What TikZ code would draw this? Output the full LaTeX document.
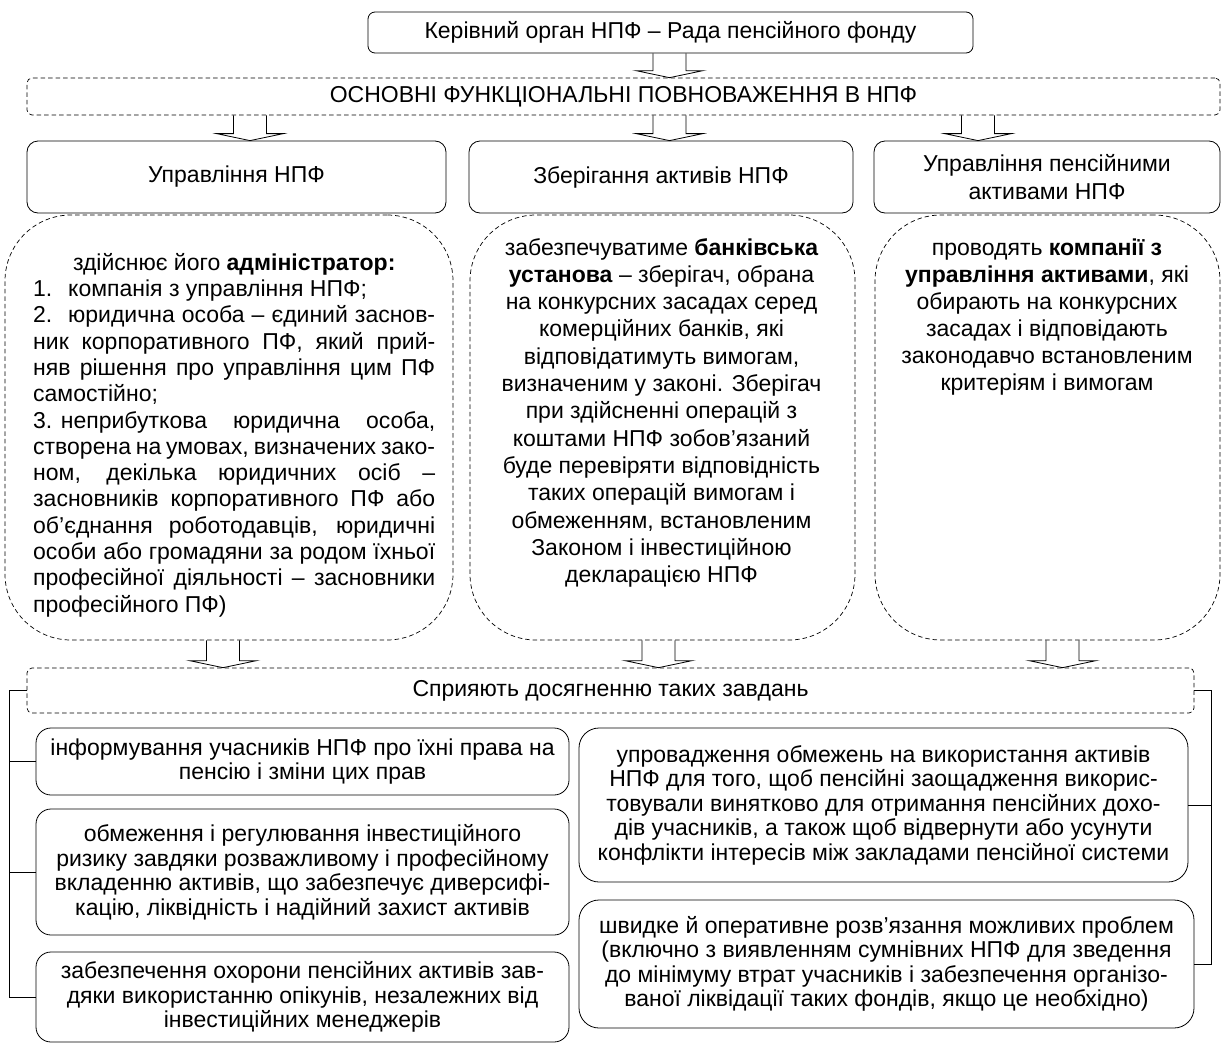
\documentclass[tikz,border=0pt]{standalone}
\usepackage{fontspec}
\setmainfont{Liberation Sans}
\usetikzlibrary{calc}
\newcommand{\fsA}{\fontsize{23}{26.5}\selectfont}
\newcommand{\fsB}{\fontsize{23}{24.5}\selectfont}
\newcommand{\fsL}{\fontsize{23}{26.3}\selectfont}
\newcommand{\fsM}{\fontsize{23}{27.3}\selectfont}
\newcommand{\blockarr}[3]{%
  \coordinate (ax) at (#1,0);
  \draw[arrline] ($(ax |- #2.south)+(-16.5,0)$) -- ($(ax |- #3.north)+(-16.5,-7)$)
    -- ($(ax |- #3.north)+(-33.5,-7)$) -- (ax |- #3.north)
    -- ($(ax |- #3.north)+(33.5,-7)$) -- ($(ax |- #3.north)+(16.5,-7)$)
    -- ($(ax |- #2.south)+(16.5,0)$);
}
\begin{document}
\begin{tikzpicture}[x=1pt,y=-1pt,
  solidbox/.style={draw, line width=0.8pt, rounded corners=#1, inner sep=0pt, align=center, font=\fsA},
  dashbox/.style={draw, line width=0.7pt, dash pattern=on 4.5pt off 3pt, rounded corners=#1, inner sep=0pt, align=center, font=\fsA},
  lowbox/.style={draw, line width=0.8pt, rounded corners=15pt, inner sep=0pt, align=center, font=\fsB},
  arrline/.style={line width=0.8pt, line join=miter},
  bracket/.style={line width=0.8pt},
  bodytext/.style={inner sep=0pt, anchor=north}
]
\useasboundingbox (0,0) rectangle (1222,1044);

% top
\node[solidbox=7pt, minimum width=605pt, minimum height=41pt] (top) at (670.5,32.5)
  {Керівний орган НПФ – Рада пенсійного фонду};
\node[dashbox=5pt, minimum width=1193pt, minimum height=37pt] (osn) at (623.5,96.5)
  {ОСНОВНІ ФУНКЦІОНАЛЬНІ ПОВНОВАЖЕННЯ В НПФ};

% second row
\node[solidbox=11pt, minimum width=419pt, minimum height=72pt] (b1) at (236.5,177) {Управління НПФ};
\node[solidbox=11pt, minimum width=384pt, minimum height=72pt] (b2) at (661,177) {Зберігання активів НПФ};
\node[solidbox=11pt, minimum width=346pt, minimum height=72pt, font=\fontsize{23}{27.5}\selectfont] (b3) at (1047,177)
  {Управління пенсійними\\активами НПФ};

% dashed description boxes
\node[dashbox=66pt, minimum width=448pt, minimum height=425pt] (d1) at (229,427.5) {};
\node[dashbox=66pt, minimum width=385pt, minimum height=425pt] (d2) at (662.5,427.5) {};
\node[dashbox=66pt, minimum width=345pt, minimum height=425pt] (d3) at (1047.5,427.5) {};

\node[inner sep=0pt, anchor=north west, align=left, font=\fsL] (d1t) at (33,253) {%
\makebox[402pt][c]{здійснює його \textbf{адміністратор:}}\\
\makebox[35pt][l]{1.}компанія з управління НПФ;\\
\makebox[35pt][l]{2.}\makebox[367pt][s]{юридична особа – єдиний заснов-}\\
\makebox[402pt][s]{ник корпоративного ПФ, який прий-}\\
\makebox[402pt][s]{няв рішення про управління цим ПФ}\\
самостійно;\\
\makebox[402pt][s]{\hbox{3. неприбуткова} юридична особа,}\\
\makebox[402pt][s]{створена на умовах, визначених зако-}\\
\makebox[402pt][s]{ном, декілька юридичних осіб –}\\
\makebox[402pt][s]{засновників корпоративного ПФ або}\\
\makebox[402pt][s]{об’єднання роботодавців, юридичні}\\
\makebox[402pt][s]{особи або громадяни за родом їхньої}\\
\makebox[402pt][s]{професійної діяльності – засновники}\\
професійного ПФ)};

\node[bodytext, align=center, font=\fsM] (d2t) at (661.5,238) {%
забезпечуватиме \textbf{банківська}\\
\textbf{установа} – зберігач, обрана\\
на конкурсних засадах серед\\
комерційних банків, які\\
відповідатимуть вимогам,\\
визначеним у законі. Зберігач\\
при здійсненні операцій з\\
коштами НПФ зобов’язаний\\
буде перевіряти відповідність\\
таких операцій вимогам і\\
обмеженням, встановленим\\
Законом і інвестиційною\\
декларацією НПФ};

\node[bodytext, align=center, font=\fontsize{23}{26.9}\selectfont] (d3t) at (1047,239) {%
проводять \textbf{компанії з}\\
\textbf{управління активами}, які\\
обирають на конкурсних\\
засадах і відповідають\\
законодавчо встановленим\\
критеріям і вимогам};

% tasks
\node[dashbox=5pt, minimum width=1167pt, minimum height=45pt] (spr) at (610.5,690.5)
  {Сприяють досягненню таких завдань};

\node[lowbox, minimum width=533pt, minimum height=67pt] (l1) at (302.5,761.5)
  {інформування учасників НПФ про їхні права на\\пенсію і зміни цих прав};
\node[lowbox, minimum width=533pt, minimum height=126pt] (l2) at (302.5,872)
  {обмеження і регулювання інвестиційного\\ризику завдяки розважливому і професійному\\вкладенню активів, що забезпечує диверсифі-\\кацію, ліквідність і надійний захист активів};
\node[lowbox, minimum width=533pt, minimum height=90pt] (l3) at (302.5,997)
  {забезпечення охорони пенсійних активів зав-\\дяки використанню опікунів, незалежних від\\інвестиційних менеджерів};

\node[lowbox, rounded corners=20pt, minimum width=609pt, minimum height=154pt] (r1) at (883.5,805)
  {упровадження обмежень на використання активів\\НПФ для того, щоб пенсійні заощадження викорис-\\товували винятково для отримання пенсійних дохо-\\дів учасників, а також щоб відвернути або усунути\\конфлікти інтересів між закладами пенсійної системи};
\node[lowbox, rounded corners=20pt, minimum width=615pt, minimum height=128pt] (r2) at (886.5,964)
  {швидке й оперативне розв’язання можливих проблем\\(включно з виявленням сумнівних НПФ для зведення\\до мінімуму втрат учасників і забезпечення організо-\\ваної ліквідації таких фондів, якщо це необхідно)};

% block arrows
\blockarr{669.5}{top}{osn}
\blockarr{250}{osn}{b1}
\blockarr{669.5}{osn}{b2}
\blockarr{978}{osn}{b3}
\blockarr{223}{d1}{spr}
\blockarr{658.5}{d2}{spr}
\blockarr{1062.5}{d3}{spr}

% brackets
\coordinate (lb) at (9,0);
\coordinate (rb) at (1211,0);
\draw[bracket] (spr.west) -| (lb |- l3.west) -- (l3.west);
\draw[bracket] (l1.west) -- (lb |- l1.west);
\draw[bracket] (l2.west) -- (lb |- l2.west);
\draw[bracket] (spr.east) -| (rb |- r2.east) -- (r2.east);
\draw[bracket] (r1.east) -- (rb |- r1.east);
\end{tikzpicture}
\end{document}
